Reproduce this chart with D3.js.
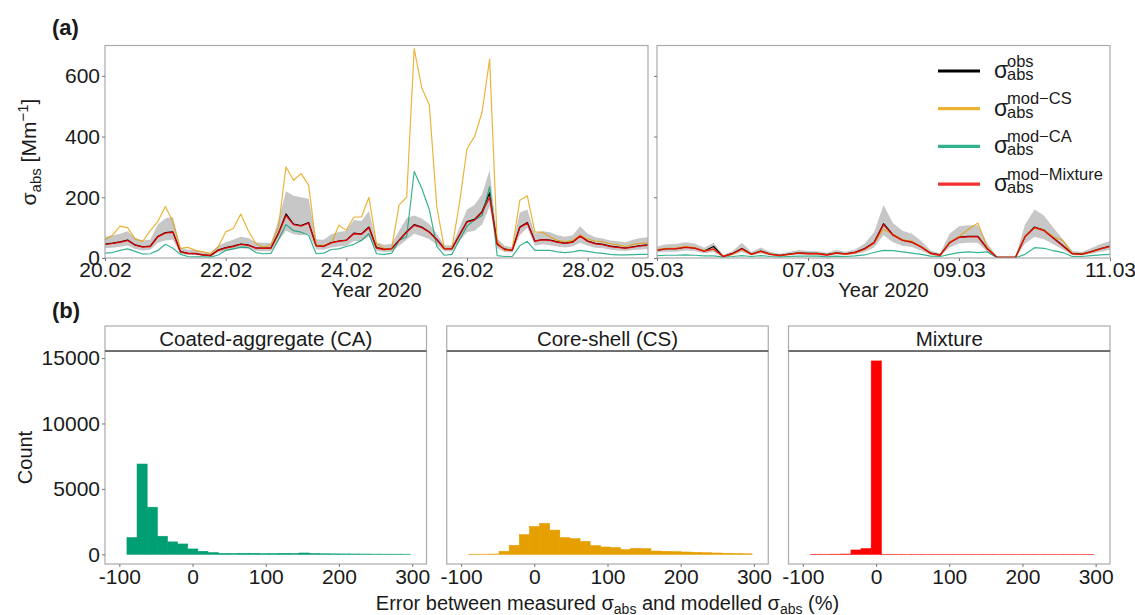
<!DOCTYPE html>
<html>
<head>
<meta charset="utf-8">
<script src="https://cdn.jsdelivr.net/npm/d3@7"></script>
<style>
  body { margin: 0; background: #fff; }
  svg text { font-family: "Liberation Sans", Arial, sans-serif; fill: #1a1a1a; }
</style>
</head>
<body>
<svg id="chart" width="1135" height="615"></svg>
<script>
// ---- panel (a): 3-hourly absorption coefficients, Mm-1 ----
const leftStart = "2020-02-20T00:00:00Z", leftEnd = "2020-02-29T00:00:00Z";
const rightStart = "2020-03-05T00:00:00Z", rightEnd = "2020-03-11T00:00:00Z";
const stepHours = 3;

const obsLeft = [46,49,53,59,43,37,39,71,84,86, 21,15,14,10,8,26,34,39,46,43, 33,33,33,82,145,112,107,117,41,39,
  51,56,59,82,79,102,34,29,31,59, 87,110,102,86,61,31,31,76,120,127, 153,215,46,29,26,102,117,56,61,59,
  53,49,53,73,56,48,45,39,36,33, 37,41,43];
const csLeft = [60,75,105,100,62,55,90,120,170,120, 32,35,25,20,15,36,86,97,145,90, 47,36,42,102,300,256,278,240,42,42,
  47,108,91,135,135,200,47,31,30,175, 200,690,560,505,168,31,33,180,360,400, 480,655,55,25,30,190,205,85,85,70,
  58,53,58,75,62,56,53,47,43,38, 45,48,50];
const caLeft = [16,18,25,30,22,13,14,25,45,32, 12,5,4,4,3,10,25,30,36,35, 18,14,15,60,110,90,85,75,14,16,
  28,30,38,45,58,80,14,12,15,58, 70,285,230,160,38,9,12,60,105,125, 140,235,8,5,5,40,55,25,25,25,
  20,18,20,25,22,18,15,12,10,10, 11,12,12];
const mixLeft = [45,48,52,58,42,36,38,70,82,85, 20,15,15,10,8,25,33,38,45,42, 33,32,32,80,140,110,105,115,40,38,
  50,55,58,80,78,100,33,28,30,58, 85,108,100,85,60,30,30,75,118,125, 150,200,45,28,25,100,115,55,60,58,
  52,48,52,72,55,47,44,38,35,32, 36,40,42];
const bandHiLeft = [70,74,80,88,66,58,60,110,130,135, 34,27,26,19,16,40,52,60,70,66, 52,50,50,125,220,205,200,195,62,60,
  78,86,90,125,122,155,52,44,47,90, 132,140,130,112,80,42,42,100,160,175, 210,290,65,40,36,150,160,80,88,85,
  75,70,75,105,80,68,64,58,55,52, 60,66,68];
const bandLoLeft = [32,34,37,41,30,25,27,50,58,60, 14,10,10,7,5,18,23,27,32,30, 23,22,22,56,90,78,75,80,28,27,
  35,38,40,56,55,70,23,20,21,40, 60,80,72,62,44,22,22,55,85,90, 110,170,32,20,18,75,100,40,45,42,
  38,35,38,50,40,34,32,27,25,23, 26,28,30];

const obsRight = [26,31,31,36,33,23,38,5,15,31, 13,23,13,9,13,17,15,15,11,17, 14,19,31,51,113,77,59,53,37,16,
  10,51,69,71,71,31,3,2,3,71, 102,92,66,41,15,13,21,31,39];
const csRight = [28,32,32,38,34,24,28,6,12,28, 12,22,13,8,12,17,14,15,10,17, 12,17,28,50,95,78,60,55,38,15,
  9,52,70,95,115,35,3,2,3,72, 100,92,70,58,14,12,20,30,38];
const caRight = [8,9,9,10,9,7,7,3,5,8, 5,8,5,4,5,6,6,6,4,6, 5,7,10,18,25,24,20,16,12,6,
  5,12,18,20,18,20,1,1,1,12, 34,32,24,18,5,5,8,10,12];
const mixRight = [25,30,30,35,32,22,30,5,14,30, 12,22,12,8,12,16,14,14,10,16, 13,18,30,50,110,75,58,52,36,15,
  9,50,68,70,70,30,3,2,3,70, 100,90,65,40,14,12,20,30,38];
const bandHiRight = [38,45,46,52,48,34,50,10,22,50, 20,35,20,14,20,26,23,22,17,26, 21,28,48,85,175,115,90,80,56,25,
  15,80,105,108,108,48,6,5,6,110, 160,140,100,62,24,20,32,46,56];
const bandLoRight = [18,21,21,25,23,16,20,2,9,20, 8,15,8,5,8,11,9,9,6,11, 9,12,20,35,75,52,40,36,25,10,
  6,35,48,50,50,20,1,1,1,48, 70,62,45,28,9,8,14,21,27];

const tickDatesLeft = ["2020-02-20", "2020-02-22", "2020-02-24", "2020-02-26", "2020-02-28"];
const tickDatesRight = ["2020-03-05", "2020-03-07", "2020-03-09", "2020-03-11"];
const yTicksA = [0, 200, 400, 600];

const seriesKeys = ["obs", "cs", "ca", "mix"];
const seriesColors = ["#000000", "#E69F00", "#009E73", "#EE0000"];
const legendSup = ["obs", "mod\u2212CS", "mod\u2212CA", "mod\u2212Mixture"];

// ---- panel (b): histograms of the relative error, % ----
const binEdges = [-89.6,-75.8,-62.0,-48.1,-34.3,-20.5,-6.6,7.2,21.0,34.9,48.7,62.5,76.3,90.2,104.0,
  117.8,131.7,145.5,159.3,173.2,187.0,200.8,214.6,228.5,242.3,256.1,270.0,283.8,297.6];
const countCA = [1280,6900,3600,1380,950,790,410,230,130,70, 60,80,80,50,55,75,60,100,60,40, 35,30,25,20,15,12,10,8];
const countCS = [10,10,20,228,685,1500,2130,2360,1850,1270, 1195,990,660,560,510,355,455,430,250,228, 200,175,150,120,100,80,60,40];
const countMix = [5,5,10,20,330,435,14780,5,3,2, 2,1,1,1,1,1,1,1,1,1, 1,1,1,1,1,1,1,1];
const facetNames = ["Coated-aggregate (CA)", "Core-shell (CS)", "Mixture"];
const facetColors = ["#009E73", "#E69F00", "#FF0000"];
const xTicksB = [-100, 0, 100, 200, 300];
const yTicksB = [0, 5000, 10000, 15000];

const svg = d3.select("#chart");
const borderColor = "#ababab";
const tickColor = "#777";

function styleAxis(g, size) {
  g.select(".domain").remove();
  g.selectAll(".tick line").attr("stroke", tickColor);
  g.selectAll(".tick text").attr("font-size", size).attr("fill", "#1a1a1a")
    .attr("font-family", '"Liberation Sans", Arial, sans-serif');
}

// ================= panel (a) =================
const aTop = 45.5, aBottom = 258;
const yA = d3.scaleLinear().domain([0, 700]).range([aBottom, aTop]);

const panelsA = [
  { start: leftStart, end: leftEnd, x0: 105, x1: 648, ticks: tickDatesLeft, labels: true,
    obs: obsLeft, cs: csLeft, ca: caLeft, mix: mixLeft, hi: bandHiLeft, lo: bandLoLeft },
  { start: rightStart, end: rightEnd, x0: 657, x1: 1110, ticks: tickDatesRight, labels: false,
    obs: obsRight, cs: csRight, ca: caRight, mix: mixRight, hi: bandHiRight, lo: bandLoRight }
];

panelsA.forEach((p, pi) => {
  const x = d3.scaleUtc().domain([new Date(p.start), new Date(p.end)]).range([p.x0, p.x1]);
  const t0 = new Date(p.start);
  const rows = p.obs.map((v, i) => ({
    t: d3.utcHour.offset(t0, i * stepHours),
    obs: v, cs: p.cs[i], ca: p.ca[i], mix: p.mix[i], hi: p.hi[i], lo: p.lo[i]
  }));

  const clipId = "clipA" + pi;
  svg.append("clipPath").attr("id", clipId).append("rect")
    .attr("x", p.x0).attr("y", aTop).attr("width", p.x1 - p.x0).attr("height", aBottom - aTop);

  const plot = svg.append("g").attr("clip-path", `url(#${clipId})`);

  // uncertainty band
  plot.append("path")
    .datum(rows)
    .attr("fill", "#b4b4b4")
    .attr("fill-opacity", 0.75)
    .attr("d", d3.area().x(d => x(d.t)).y0(d => yA(d.lo)).y1(d => yA(d.hi)));

  seriesKeys.forEach((k, si) => {
    plot.append("path")
      .datum(rows)
      .attr("fill", "none")
      .attr("stroke", seriesColors[si])
      .attr("stroke-width", k === "mix" ? 1.4 : 1.2)
      .attr("stroke-opacity", k === "obs" ? 1 : (k === "mix" ? 0.88 : 0.78))
      .attr("stroke-linejoin", "round")
      .attr("d", d3.line().x(d => x(d.t)).y(d => yA(d[k])));
  });

  svg.append("rect")
    .attr("x", p.x0).attr("y", aTop).attr("width", p.x1 - p.x0).attr("height", aBottom - aTop)
    .attr("fill", "none").attr("stroke", borderColor).attr("stroke-width", 1.2);

  svg.append("g")
    .attr("transform", `translate(0,${aBottom})`)
    .call(d3.axisBottom(x).tickValues(p.ticks.map(s => new Date(s + "T00:00:00Z")))
      .tickFormat(d3.utcFormat("%d.%m")).tickSize(3).tickPadding(1))
    .call(g => styleAxis(g, 21));

  svg.append("g")
    .attr("transform", `translate(${p.x0},0)`)
    .call(d3.axisLeft(yA).tickValues(yTicksA).tickSize(3).tickPadding(2)
      .tickFormat(p.labels ? d => String(d) : () => ""))
    .call(g => styleAxis(g, 21));

  svg.append("text")
    .attr("x", (p.x0 + p.x1) / 2).attr("y", 297)
    .attr("text-anchor", "middle").attr("font-size", 20)
    .text("Year 2020");
});

// y title (a)
const yTitleA = svg.append("text")
  .attr("transform", "translate(36,152) rotate(-90)")
  .attr("text-anchor", "middle").attr("font-size", 21);
yTitleA.append("tspan").text("\u03c3");
yTitleA.append("tspan").attr("font-size", 15).attr("dy", 5).text("abs");
yTitleA.append("tspan").attr("dy", -5).text(" [Mm");
yTitleA.append("tspan").attr("font-size", 15).attr("dy", -8).text("\u22121");
yTitleA.append("tspan").attr("dy", 8).text("]");

// legend
const legendY0 = 71, legendStep = 37.7;
const serif = '"DejaVu Serif", "Liberation Serif", serif';
legendSup.forEach((sup, i) => {
  const ly = legendY0 + i * legendStep;
  svg.append("line")
    .attr("x1", 938).attr("x2", 980).attr("y1", ly).attr("y2", ly)
    .attr("stroke", seriesColors[i]).attr("stroke-width", 3.2)
    .attr("stroke-opacity", i === 0 ? 1 : 0.8);
  svg.append("text").attr("x", 994).attr("y", ly + 7)
    .attr("font-family", serif).attr("font-size", 23).text("\u03c3");
  svg.append("text").attr("x", 1007).attr("y", ly - 4.5)
    .attr("font-family", serif).attr("font-size", 16.5).text(sup);
  svg.append("text").attr("x", 1007).attr("y", ly + 9)
    .attr("font-family", serif).attr("font-size", 16.5).text("abs");
});

svg.append("text").attr("x", 52).attr("y", 35)
  .attr("font-size", 22).attr("font-weight", "bold").text("(a)");

// ================= panel (b) =================
const stripTop = 326, bTop = 351, bBottom = 564;
const facetW = 321.5, facetGap = 20.25, bLeft = 105;
const yB = d3.scaleLinear().domain([-740, 15540]).range([bBottom, bTop]);
const facetCounts = [countCA, countCS, countMix];

facetNames.forEach((name, fi) => {
  const x0 = bLeft + fi * (facetW + facetGap);
  const x = d3.scaleLinear().domain([-119.6, 319.6]).range([x0, x0 + facetW]);
  const bins = facetCounts[fi].map((c, i) => ({ lo: binEdges[i], hi: binEdges[i + 1], n: c }));

  svg.append("g").selectAll("rect")
    .data(bins)
    .join("rect")
    .attr("x", d => x(d.lo))
    .attr("width", d => x(d.hi) - x(d.lo))
    .attr("y", d => yB(d.n))
    .attr("height", d => yB(0) - yB(d.n))
    .attr("fill", facetColors[fi])
    .attr("stroke", facetColors[fi])
    .attr("stroke-width", 0.6);

  svg.append("rect")
    .attr("x", x0).attr("y", bTop).attr("width", facetW).attr("height", bBottom - bTop)
    .attr("fill", "none").attr("stroke", borderColor).attr("stroke-width", 1.2);

  // strip
  svg.append("rect")
    .attr("x", x0).attr("y", stripTop).attr("width", facetW).attr("height", bTop - stripTop)
    .attr("fill", "#fff").attr("stroke", borderColor).attr("stroke-width", 1.2);
  svg.append("line")
    .attr("x1", x0).attr("x2", x0 + facetW).attr("y1", bTop).attr("y2", bTop)
    .attr("stroke", "#555").attr("stroke-width", 1.3);
  svg.append("text")
    .attr("x", x0 + facetW / 2).attr("y", 346)
    .attr("text-anchor", "middle").attr("font-size", 20.5)
    .text(name);

  svg.append("g")
    .attr("transform", `translate(0,${bBottom})`)
    .call(d3.axisBottom(x).tickValues(xTicksB).tickSize(3).tickPadding(2).tickFormat(d => String(d)))
    .call(g => styleAxis(g, 21));

  if (fi === 0) {
    svg.append("g")
      .attr("transform", `translate(${x0},0)`)
      .call(d3.axisLeft(yB).tickValues(yTicksB).tickSize(3).tickPadding(2).tickFormat(d => String(d)))
      .call(g => styleAxis(g, 21));
  }
});

svg.append("text")
  .attr("transform", `translate(32,${(bTop + bBottom) / 2}) rotate(-90)`)
  .attr("text-anchor", "middle").attr("font-size", 20)
  .text("Count");

const xTitleB = svg.append("text")
  .attr("x", 607.5).attr("y", 610)
  .attr("text-anchor", "middle").attr("font-size", 20);
xTitleB.append("tspan").text("Error between measured \u03c3");
xTitleB.append("tspan").attr("font-size", 14).attr("dy", 4).text("abs");
xTitleB.append("tspan").attr("dy", -4).text(" and modelled \u03c3");
xTitleB.append("tspan").attr("font-size", 14).attr("dy", 4).text("abs");
xTitleB.append("tspan").attr("dy", -4).text(" (%)");

svg.append("text").attr("x", 52).attr("y", 318)
  .attr("font-size", 22).attr("font-weight", "bold").text("(b)");
</script>
</body>
</html>
